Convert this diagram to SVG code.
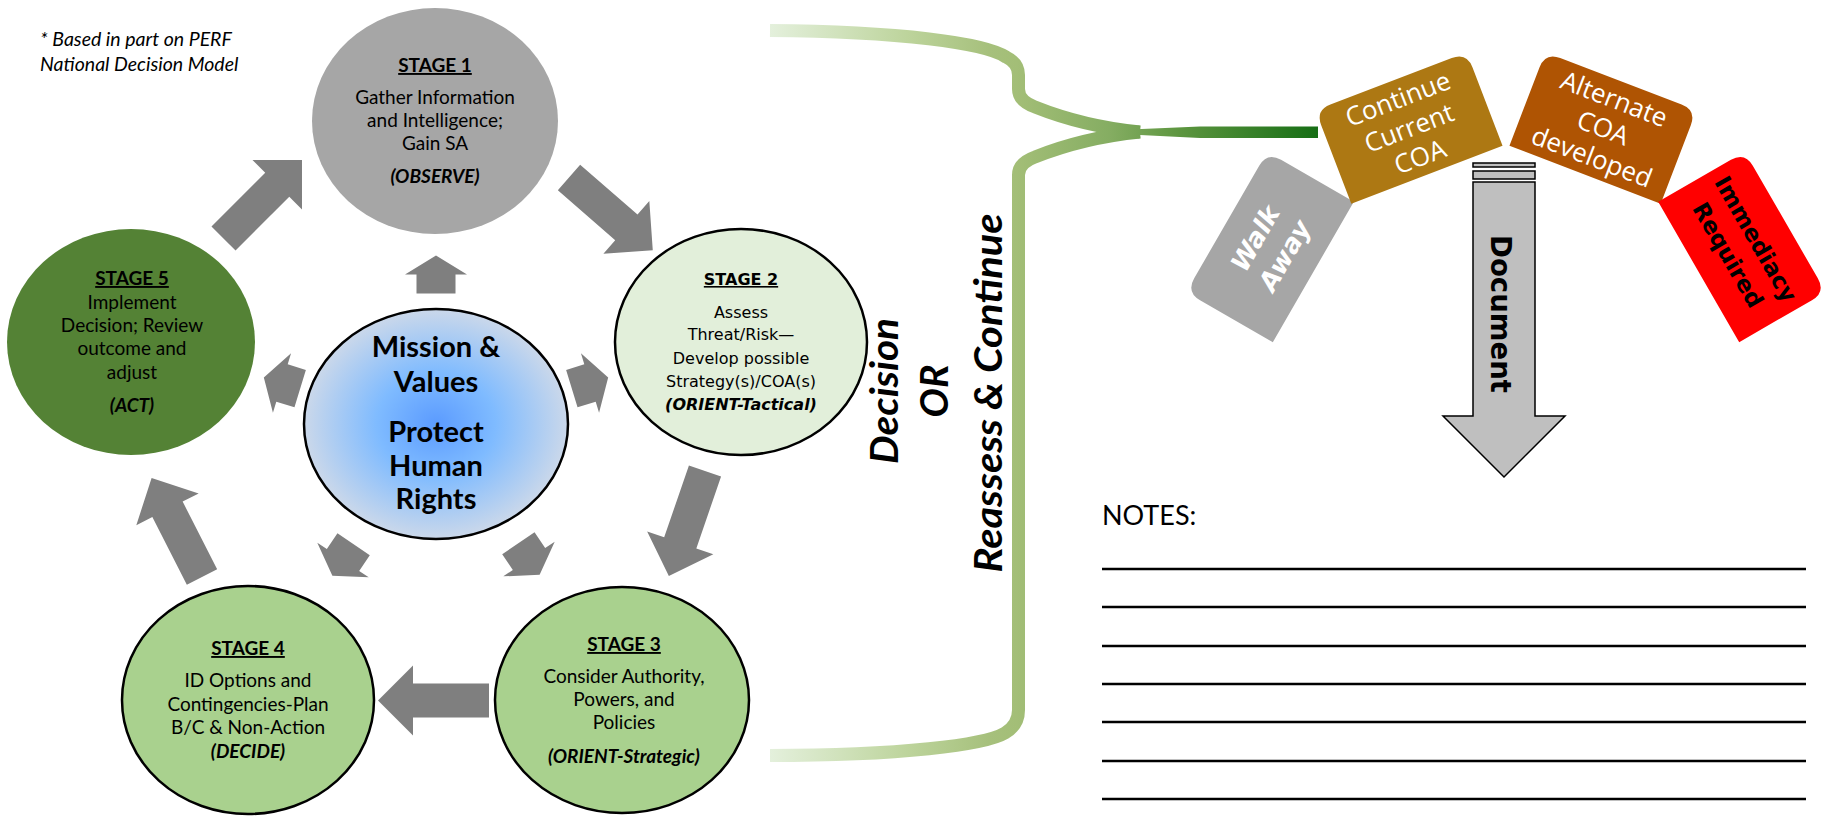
<svg xmlns="http://www.w3.org/2000/svg" width="1843" height="817" viewBox="0 0 1843 817">
<style>
.t{font-family:Lato,"Liberation Sans",sans-serif;font-size:19px;fill:#000;text-anchor:middle}
.b{font-weight:bold}
.bi{font-weight:bold;font-style:italic}
.u{text-decoration:underline}
.s2{font-family:"DejaVu Sans",Verdana,sans-serif;font-size:16px;fill:#000;text-anchor:middle}
.m{font-family:Lato,"Liberation Sans",sans-serif;font-size:29px;font-weight:bold;fill:#000;text-anchor:middle}
.big{font-family:Lato,"Liberation Sans",sans-serif;font-size:39px;font-weight:bold;font-style:italic;fill:#000;text-anchor:middle}
.bx{font-family:"Open Sans","DejaVu Sans",sans-serif;font-size:26px;fill:#fff;text-anchor:middle}
.bxb{font-family:"DejaVu Sans",Verdana,sans-serif;font-weight:bold;text-anchor:middle}
.ga{fill:#7F7F7F}
.edge{fill:none;stroke:#000;stroke-width:2.5}
</style>
<defs>
<radialGradient id="blue" cx="50%" cy="50%" r="50%">
<stop offset="0" stop-color="#5B9BFF"/>
<stop offset="0.45" stop-color="#7FBBFF"/>
<stop offset="1" stop-color="#CBD8EA"/>
</radialGradient>
<linearGradient id="brace" gradientUnits="userSpaceOnUse" x1="770" y1="0" x2="1318" y2="0">
<stop offset="0" stop-color="#E4F0DC"/>
<stop offset="0.25" stop-color="#BDD49C"/>
<stop offset="0.4" stop-color="#A6C07C"/>
<stop offset="0.45" stop-color="#A3BE77"/>
<stop offset="0.62" stop-color="#85AD62"/>
<stop offset="0.75" stop-color="#5C953F"/>
<stop offset="1" stop-color="#166E15"/>
</linearGradient>
<polygon id="bigArrow" points="0,-17 76,-17 76,-35 111,0 76,35 76,17 0,17"/>
<polygon id="smallArrow" points="-19,-19.5 0,-19.5 0,-31 19,0 0,31 0,19.5 -19,19.5"/>
<path id="box" d="M-81,50 L-81,-34 Q-81,-50 -65,-50 L65,-50 Q81,-50 81,-34 L81,50 Z"/>
</defs>

<text class="t" style="font-style:italic;text-anchor:start;font-size:19.5px" x="40" y="46">* Based in part on PERF</text>
<text class="t" style="font-style:italic;text-anchor:start;font-size:19.5px" x="40" y="71">National Decision Model</text>

<g id="connectors">
<use href="#bigArrow" class="ga" transform="translate(223.5,238.5) rotate(-45)"/>
<use href="#bigArrow" class="ga" transform="translate(569,177.5) rotate(41)"/>
<use href="#bigArrow" class="ga" transform="translate(705,471) rotate(109)"/>
<use href="#bigArrow" class="ga" transform="translate(489,700.5) rotate(180)"/>
<use href="#bigArrow" class="ga" transform="translate(202,577) rotate(-117)"/>
<use href="#smallArrow" class="ga" transform="translate(436,274.5) rotate(-90)"/>
<use href="#smallArrow" class="ga" transform="translate(282,383) rotate(-163)"/>
<use href="#smallArrow" class="ga" transform="translate(590,383) rotate(-17)"/>
<use href="#smallArrow" class="ga" transform="translate(343,560) rotate(124)"/>
<use href="#smallArrow" class="ga" transform="translate(529,559) rotate(56)"/>
<path d="M770,30.5 C900,31.5 985,43 1006,57 Q1018.5,63 1018.5,75 L1018.5,89 Q1018.5,101 1035,107 C1065,119 1100,128 1140,132" fill="none" stroke="url(#brace)" stroke-width="13"/>
<path d="M1140,132 C1100,136 1065,145 1035,157 Q1018.5,163 1018.5,175 L1018.5,710 Q1018.5,725 1005,733 C985,745 900,755.5 770,755.5" fill="none" stroke="url(#brace)" stroke-width="13"/>
<polygon points="1130,129.5 1200,126.5 1318,126.5 1318,138 1200,138 1130,134.5" fill="url(#brace)"/>
</g>

<g id="stage1">
<ellipse cx="435" cy="121" rx="123" ry="113" fill="#A6A6A6"/>
<text class="t b u" x="435" y="72">STAGE 1</text>
<text class="t" x="435" y="104">Gather Information</text>
<text class="t" x="435" y="127">and Intelligence;</text>
<text class="t" x="435" y="150">Gain SA</text>
<text class="t bi" x="435" y="183">(OBSERVE)</text>
</g>

<g id="stage2">
<ellipse cx="741" cy="342" rx="126" ry="113" class="edge" style="fill:#E2EFDA"/>
<text class="s2 b u" x="741" y="285">STAGE 2</text>
<text class="s2" x="741" y="318">Assess</text>
<text class="s2" x="741" y="340">Threat/Risk—</text>
<text class="s2" x="741" y="364">Develop possible</text>
<text class="s2" x="741" y="387">Strategy(s)/COA(s)</text>
<text class="s2 bi" x="741" y="410">(ORIENT-Tactical)</text>
</g>

<g id="stage3">
<ellipse cx="622" cy="700" rx="127" ry="113" class="edge" style="fill:#A9D18E"/>
<text class="t b u" x="624" y="651">STAGE 3</text>
<text class="t" x="624" y="683">Consider Authority,</text>
<text class="t" x="624" y="706">Powers, and</text>
<text class="t" x="624" y="729">Policies</text>
<text class="t bi" x="624" y="763">(ORIENT-Strategic)</text>
</g>

<g id="stage4">
<ellipse cx="248" cy="700" rx="126" ry="114" class="edge" style="fill:#A9D18E"/>
<text class="t b u" x="248" y="655">STAGE 4</text>
<text class="t" x="248" y="687">ID Options and</text>
<text class="t" x="248" y="711">Contingencies-Plan</text>
<text class="t" x="248" y="734">B/C &amp; Non-Action</text>
<text class="t bi" x="248" y="758">(DECIDE)</text>
</g>

<g id="stage5">
<ellipse cx="131" cy="342" rx="124" ry="113" fill="#548235"/>
<text class="t b u" x="132" y="285">STAGE 5</text>
<text class="t" x="132" y="309">Implement</text>
<text class="t" x="132" y="332">Decision; Review</text>
<text class="t" x="132" y="355">outcome and</text>
<text class="t" x="132" y="379">adjust</text>
<text class="t bi" x="132" y="412">(ACT)</text>
</g>

<g id="mission">
<ellipse cx="436" cy="424" rx="132" ry="115" fill="url(#blue)" stroke="#000" stroke-width="2.5"/>
<text class="m" x="436" y="357">Mission &amp;</text>
<text class="m" x="436" y="392">Values</text>
<text class="m" x="436" y="442">Protect</text>
<text class="m" x="436" y="476">Human</text>
<text class="m" x="436" y="509">Rights</text>
</g>

<g id="decision-label">
<text class="big" transform="translate(898,391) rotate(-90)" textLength="146" lengthAdjust="spacingAndGlyphs">Decision</text>
<text class="big" transform="translate(948,391) rotate(-90)">OR</text>
<text class="big" transform="translate(1002,393) rotate(-90)" textLength="359" lengthAdjust="spacingAndGlyphs">Reassess &amp; Continue</text>
</g>

<g id="walk-away" transform="translate(1270,247) rotate(-60)">
<use href="#box" fill="#A6A6A6"/>
<text class="bxb" style="font-size:26px;font-style:italic;fill:#fff" x="0" y="-8">Walk</text>
<text class="bxb" style="font-size:26px;font-style:italic;fill:#fff" x="0" y="26">Away</text>
</g>

<g id="continue-coa" transform="translate(1409,128) rotate(-21)">
<use href="#box" fill="#AD7813"/>
<text class="bx" x="0" y="-22">Continue</text>
<text class="bx" x="0" y="9">Current</text>
<text class="bx" x="0" y="40">COA</text>
</g>

<g id="alternate-coa" transform="translate(1603,128) rotate(21)">
<use href="#box" fill="#AF5403"/>
<text class="bx" x="0" y="-22">Alternate</text>
<text class="bx" x="0" y="9">COA</text>
<text class="bx" x="0" y="40">developed</text>
</g>

<g id="immediacy" transform="translate(1742,247) rotate(60)">
<use href="#box" fill="#FF0000"/>
<text class="bxb" style="font-size:23px;fill:#000" x="0" y="-8">Immediacy</text>
<text class="bxb" style="font-size:23px;fill:#000" x="0" y="24">Required</text>
</g>

<g id="document">
<rect x="1473" y="163" width="62" height="4" fill="#BFBFBF" stroke="#000" stroke-width="1.5"/>
<rect x="1473" y="171" width="62" height="8" fill="#BFBFBF" stroke="#000" stroke-width="1.5"/>
<polygon points="1473,182 1535,182 1535,416 1565,416 1504,477 1443,416 1473,416" fill="#BFBFBF" stroke="#000" stroke-width="1.5"/>
<text class="bxb" style="font-size:28px;fill:#000" transform="translate(1504,314) rotate(90)" x="0" y="13" textLength="158" lengthAdjust="spacingAndGlyphs">Document</text>
</g>

<g id="notes">
<text class="t" style="text-anchor:start;font-size:27px" x="1102" y="525">NOTES:</text>
<g stroke="#000" stroke-width="2.5">
<line x1="1102" y1="569" x2="1806" y2="569"/>
<line x1="1102" y1="607" x2="1806" y2="607"/>
<line x1="1102" y1="646" x2="1806" y2="646"/>
<line x1="1102" y1="684" x2="1806" y2="684"/>
<line x1="1102" y1="722" x2="1806" y2="722"/>
<line x1="1102" y1="761" x2="1806" y2="761"/>
<line x1="1102" y1="799" x2="1806" y2="799"/>
</g>
</g>
</svg>
